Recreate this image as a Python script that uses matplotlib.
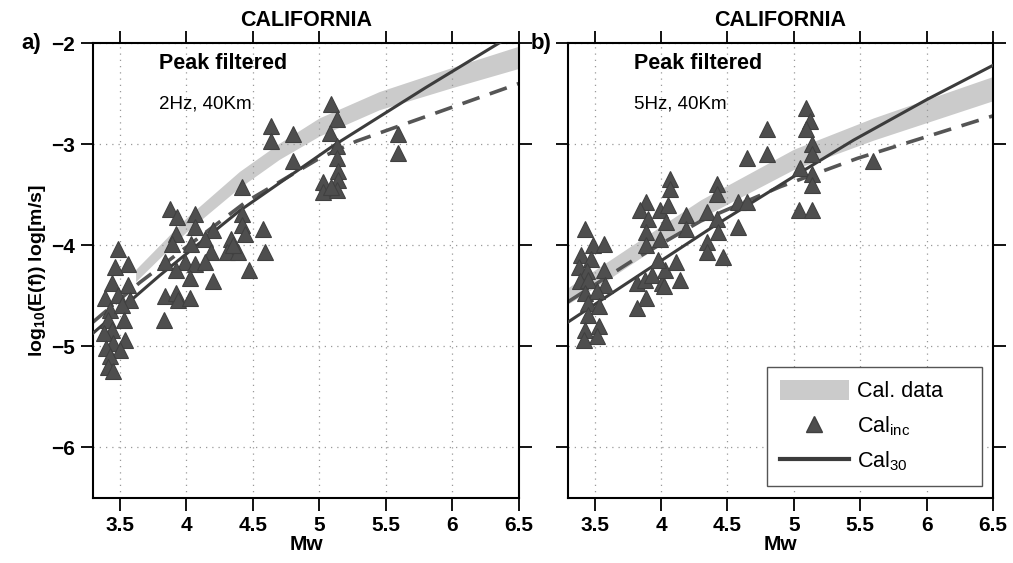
import matplotlib
matplotlib.use('Agg')
import matplotlib.pyplot as plt
from matplotlib.patches import Patch
from matplotlib.lines import Line2D

plt.rcParams['font.family'] = ['Liberation Sans', 'DejaVu Sans']
plt.rcParams['mathtext.fontset'] = 'custom'
plt.rcParams['mathtext.rm'] = 'Liberation Sans'
plt.rcParams['mathtext.it'] = 'Liberation Sans:italic'
plt.rcParams['mathtext.bf'] = 'Liberation Sans:bold'

# Panel a) 2Hz, 40Km - observed points (Mw, log10 E)
mwA = [3.49, 3.565, 3.465, 3.44, 3.565, 3.39, 3.49, 3.58, 3.43, 3.515, 3.415, 3.53, 3.44, 3.38,
       3.54, 3.45, 3.40, 3.50, 3.43, 3.415, 3.45,
       3.88, 3.93, 4.07, 4.07, 4.42, 3.92, 3.89, 4.20, 4.14, 4.04, 4.19, 3.84, 3.99, 4.07, 4.14,
       3.92, 4.03, 4.20, 4.42, 4.42, 4.44, 4.34, 4.31, 4.39, 4.35, 4.58, 4.59, 4.47, 3.84, 3.92,
       3.94, 4.03, 3.83,
       4.64, 4.64, 4.80, 4.80, 5.09, 5.13, 5.08, 5.13, 5.13, 5.14, 5.14, 5.03, 5.03, 5.13, 5.09,
       5.59, 5.59]
eA = [-4.04, -4.19, -4.22, -4.37, -4.39, -4.52, -4.49, -4.54, -4.64, -4.59, -4.74, -4.74, -4.84, -4.87,
      -4.94, -4.97, -5.02, -5.04, -5.10, -5.20, -5.24,
      -3.64, -3.72, -3.69, -3.82, -3.42, -3.89, -3.99, -3.85, -3.94, -3.99, -4.07, -4.17, -4.17, -4.19, -4.17,
      -4.24, -4.32, -4.35, -3.69, -3.80, -3.89, -3.94, -4.07, -4.07, -4.00, -3.84, -4.07, -4.24, -4.50, -4.47,
      -4.54, -4.52, -4.74,
      -2.82, -2.97, -2.90, -3.17, -2.60, -2.75, -2.89, -3.02, -3.14, -3.27, -3.35, -3.37, -3.47, -3.45, -3.42,
      -2.90, -3.09]

# Panel b) 5Hz, 40Km - observed points
mwB = [3.43, 3.49, 3.57, 3.40, 3.47, 3.38, 3.44, 3.57, 3.39, 3.45, 3.58, 3.43, 3.52, 3.45, 3.53,
       3.45, 3.43, 3.53, 3.52, 3.42,
       4.07, 4.07, 3.89, 3.84, 3.99, 4.05, 3.90, 4.04, 4.19, 4.19, 3.89, 3.99, 3.89, 4.42, 4.42,
       4.35, 4.42, 4.43, 4.35, 4.35, 4.47, 4.58, 4.65, 4.58, 3.82, 3.88, 3.93, 4.01, 4.03, 4.11,
       4.14, 3.89, 3.82, 3.98, 4.02,
       4.65, 4.80, 4.80, 5.09, 5.12, 5.09, 5.14, 5.14, 5.05, 5.14, 5.14, 5.04, 5.14, 5.60]
eB = [-3.84, -4.00, -3.99, -4.10, -4.14, -4.22, -4.25, -4.24, -4.35, -4.34, -4.39, -4.47, -4.45, -4.57, -4.60,
      -4.69, -4.84, -4.80, -4.90, -4.94,
      -3.34, -3.44, -3.57, -3.65, -3.65, -3.60, -3.74, -3.77, -3.70, -3.84, -3.87, -3.94, -4.00, -3.39, -3.49,
      -3.67, -3.74, -3.87, -3.97, -4.07, -4.12, -3.57, -3.57, -3.82, -4.37, -4.34, -4.29, -4.37, -4.24, -4.17,
      -4.34, -4.52, -4.62, -4.15, -4.40,
      -3.14, -2.85, -3.10, -2.64, -2.77, -2.85, -3.00, -3.10, -3.24, -3.30, -3.40, -3.65, -3.65, -3.17]

# Cal_30 (solid) and dashed curves
solidMwA = [3.3, 3.8, 4.4, 5.1, 5.8, 6.5]
solidEA = [-4.87, -4.30, -3.66, -3.02, -2.44, -1.88]
dashMwA = [3.3, 3.65, 4.45, 5.0, 5.28, 6.5]
dashEA = [-4.76, -4.37, -3.57, -3.14, -2.97, -2.40]

solidMwB = [3.3, 3.9, 4.4, 5.0, 5.45, 6.0, 6.5]
solidEB = [-4.76, -4.24, -3.81, -3.32, -2.96, -2.56, -2.22]
dashMwB = [3.3, 3.8, 4.3, 4.9, 5.48, 6.5]
dashEB = [-4.56, -4.14, -3.76, -3.42, -3.14, -2.72]

# Cal. data band (lower / upper edges)
bandMwA = [3.62, 4.0, 4.4, 4.7, 5.0, 5.45, 6.0, 6.5]
bandLoA = [-4.36, -3.87, -3.43, -3.15, -2.92, -2.66, -2.44, -2.25]
bandHiA = [-4.24, -3.73, -3.27, -2.99, -2.74, -2.48, -2.24, -2.03]

bandMwB = [3.3, 3.6, 4.0, 4.3, 5.0, 5.6, 6.5]
bandLoB = [-4.58, -4.34, -3.99, -3.73, -3.25, -2.96, -2.57]
bandHiB = [-4.42, -4.16, -3.81, -3.55, -3.05, -2.74, -2.33]

xTicks = [3.5, 4, 4.5, 5, 5.5, 6, 6.5]
xTickLabels = ['3.5', '4', '4.5', '5', '5.5', '6', '6.5']
yTicks = [-6, -5, -4, -3, -2]

bandColor = '#cbcbcb'
lineColor = '#3c3c3c'
markColor = '#4e4e4e'


def drawPanel(ax, mw, e, sMw, sE, dMw, dE, bMw, bLo, bHi, freqText, showYLabels):
    ax.fill_between(bMw, bLo, bHi, color=bandColor, lw=0, zorder=1)
    ax.plot(dMw, dE, color='#555555', lw=2.6, ls=(0, (5, 3)), zorder=2)
    ax.plot(sMw, sE, color=lineColor, lw=2.2, zorder=3)
    ax.plot(mw, e, ls='none', marker='^', ms=12, color=markColor,
            markeredgecolor='#404040', markeredgewidth=0.8, zorder=4)

    ax.set_xlim(3.3, 6.5)
    ax.set_ylim(-6.5, -2)
    ax.set_xticks(xTicks)
    ax.set_xticklabels(xTickLabels)
    ax.set_yticks(yTicks)
    ax.grid(True, ls=(0, (1, 4)), color='#999999', lw=0.9)
    ax.tick_params(direction='out', length=9, width=1.3, top=True, right=True,
                   labelsize=15, pad=4)
    for lab in ax.get_xticklabels() + ax.get_yticklabels():
        lab.set_fontweight('bold')
    if not showYLabels:
        ax.tick_params(labelleft=False)
    for sp in ax.spines.values():
        sp.set_linewidth(1.5)

    ax.set_title('CALIFORNIA', fontsize=15.5, fontweight='bold', pad=12)
    ax.set_xlabel('Mw', fontsize=15, fontweight='bold', labelpad=0)
    ax.text(0.155, 0.955, 'Peak filtered', transform=ax.transAxes, fontsize=15.5,
            fontweight='bold', va='center', ha='left')
    ax.text(0.155, 0.865, freqText, transform=ax.transAxes, fontsize=13.5,
            va='center', ha='left')


fig = plt.figure(figsize=(10.13, 5.63), dpi=100)
axA = fig.add_axes([0.0918, 0.1155, 0.4205, 0.808])
axB = fig.add_axes([0.5607, 0.1155, 0.4196, 0.808])

drawPanel(axA, mwA, eA, solidMwA, solidEA, dashMwA, dashEA, bandMwA, bandLoA, bandHiA,
          '2Hz, 40Km', True)
drawPanel(axB, mwB, eB, solidMwB, solidEB, dashMwB, dashEB, bandMwB, bandLoB, bandHiB,
          '5Hz, 40Km', False)

axA.set_ylabel(r'log$_{\mathbf{10}}$(E(f)) log[m/s]', fontsize=14, fontweight='bold', labelpad=2)

fig.text(0.021, 0.923, 'a)', fontsize=16, fontweight='bold', va='center')
fig.text(0.524, 0.923, 'b)', fontsize=16, fontweight='bold', va='center')

# Legend in panel b, stretched to the width of the original box
handles = [Patch(facecolor=bandColor, edgecolor='none'),
           Line2D([], [], ls='none', marker='^', ms=12, color=markColor, markeredgecolor='#404040'),
           Line2D([], [], color=lineColor, lw=3)]
labels = ['Cal. data', r'Cal$_{\mathrm{inc}}$', r'Cal$_{\mathrm{30}}$']
leg = axB.legend(handles, labels, loc='lower left', bbox_to_anchor=(0.468, 0.026, 0.506, 0.264),
                 mode='expand', borderaxespad=0, fontsize=15.5, handlelength=3.2,
                 handleheight=1.05, handletextpad=0.4, labelspacing=0.55, borderpad=0.6,
                 fancybox=False, framealpha=1, edgecolor='#555555')
leg.get_frame().set_linewidth(1.0)

fig.savefig('out.png', dpi=100)
